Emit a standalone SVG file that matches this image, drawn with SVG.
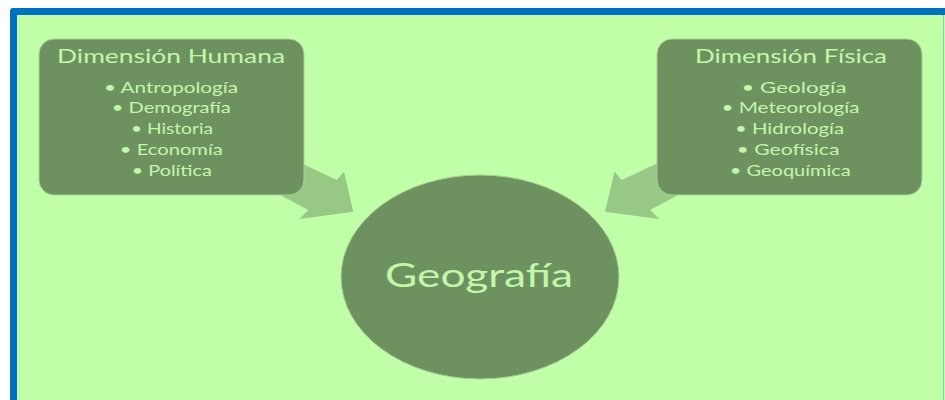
<svg xmlns="http://www.w3.org/2000/svg" width="945" height="400" viewBox="0 0 945 400">
<style>
.node{fill:#6E9160;stroke:#A9CF96;stroke-width:1}
.arrow{fill:#98C886}
.t{font-family:Lato,"Open Sans","Liberation Sans",sans-serif;fill:#C2F7AA;text-anchor:middle}
.title{font-size:19px}
.item{font-size:15px}
.big{font-size:32px}
</style>
<rect x="0" y="0" width="945" height="400" fill="#FFFFFF"/>
<rect x="10" y="8" width="945" height="400" rx="3" fill="#0070C0"/>
<rect x="17" y="15" width="928" height="385" fill="#C0FFA8"/>
<line x1="943.5" y1="15" x2="943.5" y2="400" stroke="#7FCFC4" stroke-width="1"/>
<g id="connectors">
<polygon class="arrow" points="290,158 336.7,180 344,171.7 353.3,211.7 299.3,219 308.3,210 270,189.6"/>
<polygon class="arrow" points="668.4,158 621.7,180 614.4,171.7 605.1,211.7 659.1,219 650.1,210 688.4,189.6"/>
</g>
<g id="dimension-humana">
<rect class="node" x="39" y="39" width="265" height="156" rx="15"/>
<text class="t title" x="171" y="63.3" textLength="228" lengthAdjust="spacingAndGlyphs">Dimensión Humana</text>
<text class="t item" x="171" y="92.5" textLength="134" lengthAdjust="spacingAndGlyphs">• Antropología</text>
<text class="t item" x="171.3" y="113.3" textLength="119" lengthAdjust="spacingAndGlyphs">• Demografía</text>
<text class="t item" x="172" y="134" textLength="82" lengthAdjust="spacingAndGlyphs">• Historia</text>
<text class="t item" x="171.3" y="154.8" textLength="103" lengthAdjust="spacingAndGlyphs">• Economía</text>
<text class="t item" x="171.8" y="175.6" textLength="80" lengthAdjust="spacingAndGlyphs">• Política</text>
</g>
<g id="dimension-fisica">
<rect class="node" x="657" y="39" width="265" height="156" rx="15"/>
<text class="t title" x="791" y="63.3" textLength="192" lengthAdjust="spacingAndGlyphs">Dimensión Física</text>
<text class="t item" x="794" y="92.5" textLength="105" lengthAdjust="spacingAndGlyphs">• Geología</text>
<text class="t item" x="790.5" y="113.3" textLength="138" lengthAdjust="spacingAndGlyphs">• Meteorología</text>
<text class="t item" x="789.5" y="134" textLength="109" lengthAdjust="spacingAndGlyphs">• Hidrología</text>
<text class="t item" x="788" y="154.8" textLength="103" lengthAdjust="spacingAndGlyphs">• Geofísica</text>
<text class="t item" x="790.3" y="175.6" textLength="121" lengthAdjust="spacingAndGlyphs">• Geoquímica</text>
</g>
<g id="geografia">
<ellipse class="node" cx="480" cy="277" rx="139" ry="102"/>
<text class="t big" x="479" y="286.7" textLength="188" lengthAdjust="spacingAndGlyphs">Geografía</text>
</g>
</svg>
